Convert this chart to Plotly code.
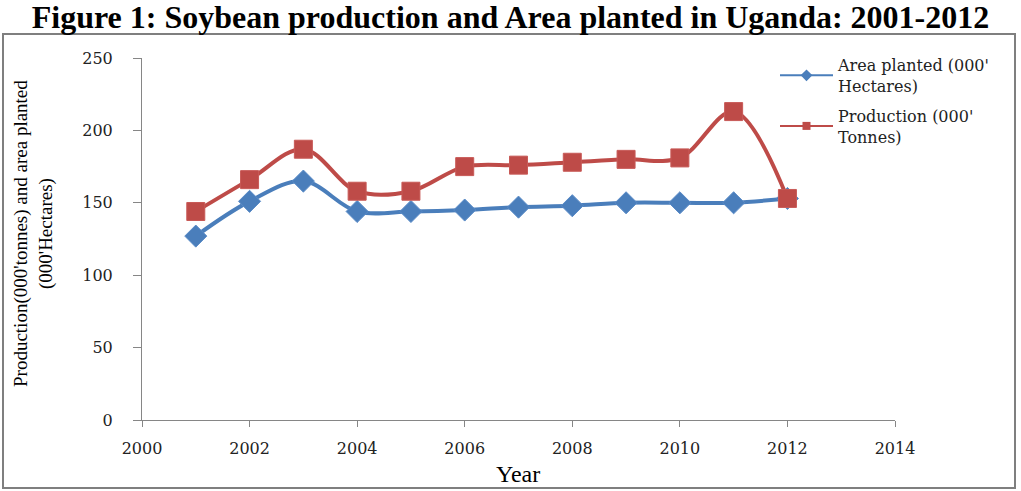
import plotly.graph_objects as go

# ---- data ----
years = [2001, 2002, 2003, 2004, 2005, 2006, 2007, 2008, 2009, 2010, 2011, 2012]
area_planted = [127, 151, 165, 144, 144, 145, 147, 148, 150, 150, 150, 153]
production = [144, 166, 187, 158, 158, 175, 176, 178, 180, 181, 213, 153]
x_ticks = [2000, 2002, 2004, 2006, 2008, 2010, 2012, 2014]
y_ticks = [0, 50, 100, 150, 200, 250]

title_text = "Figure 1: Soybean production and Area planted in Uganda: 2001-2012"
y_title = "Production(000'tonnes) and area planted<br>(000'Hectares)"
x_title = "Year"
name_area = "Area planted (000'<br>Hectares)"
name_prod = "Production (000'<br>Tonnes)"

# ---- layout geometry (pixels) ----
W, H = 1021, 491
L, R, T, B = 142, 895, 58, 420   # plot area edges
pw, ph = R - L, B - T

def px_x(p):
    return (p - L) / pw

def px_y(p):
    return (B - p) / ph

BLUE = "#4A7EBB"
RED = "#BE4B48"
SERIF = "DejaVu Serif"

fig = go.Figure()
fig.add_trace(go.Scatter(
    x=years, y=area_planted, name=name_area, mode="lines+markers",
    line=dict(color=BLUE, width=4, shape="spline", smoothing=1),
    marker=dict(symbol="diamond", size=17, color=BLUE, line=dict(color="#5B8CC8", width=1)),
    showlegend=False,
))
fig.add_trace(go.Scatter(
    x=years, y=production, name=name_prod, mode="lines+markers",
    line=dict(color=RED, width=4, shape="spline", smoothing=1),
    marker=dict(symbol="square", size=18, color=RED, line=dict(color="#C85A57", width=1)),
    showlegend=False,
))
# legend entries (smaller legend symbols, as in the reference)
fig.add_trace(go.Scatter(
    x=[None], y=[None], name=name_area, mode="lines+markers",
    line=dict(color=BLUE, width=2), marker=dict(symbol="diamond", size=9, color=BLUE),
    legendgroup="a",
))
fig.add_trace(go.Scatter(
    x=[None], y=[None], name=name_prod, mode="lines+markers",
    line=dict(color=RED, width=2), marker=dict(symbol="square", size=8, color=RED),
    legendgroup="b",
))

fig.update_layout(
    width=W, height=H,
    margin=dict(l=L, r=W - R, t=T, b=H - B, pad=0),
    paper_bgcolor="white", plot_bgcolor="white",
    showlegend=True,
    title=dict(text="<b>" + title_text + "</b>", x=0.5, xref="container", xanchor="center",
               y=1 - 17 / H, yref="container", yanchor="middle",
               font=dict(family="Liberation Serif", size=32, color="black")),
    legend=dict(x=px_x(775), y=px_y(48), xanchor="left", yanchor="top",
                font=dict(family=SERIF, size=16, color="#222"),
                itemwidth=53,
                traceorder="grouped", tracegroupgap=6, bgcolor="rgba(0,0,0,0)"),
    xaxis=dict(range=[2000, 2014], tickvals=x_ticks, showgrid=False, zeroline=False,
               showline=True, linecolor="#868686", linewidth=1,
               ticks="outside", ticklen=6, tickcolor="#868686",
               tickfont=dict(family=SERIF, size=16, color="#222"),
               ticklabelstandoff=8),
    yaxis=dict(range=[0, 250], tickvals=y_ticks, showgrid=False, zeroline=False,
               showline=True, linecolor="#868686", linewidth=1,
               ticks="outside", ticklen=8, tickcolor="#868686",
               tickfont=dict(family=SERIF, size=16, color="#222"),
               ticklabelstandoff=17),
    annotations=[
        dict(text=y_title, textangle=-90, xref="paper", yref="paper",
             x=px_x(33), y=px_y(233), xanchor="center", yanchor="middle",
             showarrow=False, font=dict(family="Liberation Serif", size=19, color="black")),
        dict(text=x_title, xref="paper", yref="paper", x=px_x(518), y=px_y(474),
             xanchor="center", yanchor="middle", showarrow=False,
             font=dict(family="Liberation Serif", size=24, color="black")),
    ],
    shapes=[
        dict(type="rect", xref="paper", yref="paper",
             x0=px_x(3), x1=px_x(1015), y0=px_y(488), y1=px_y(34),
             line=dict(color="#7F7F7F", width=2), fillcolor="rgba(0,0,0,0)", layer="below"),
    ],
)

fig.write_html("out.html", config={"displayModeBar": False},
               post_script="document.body.style.margin='0';")
